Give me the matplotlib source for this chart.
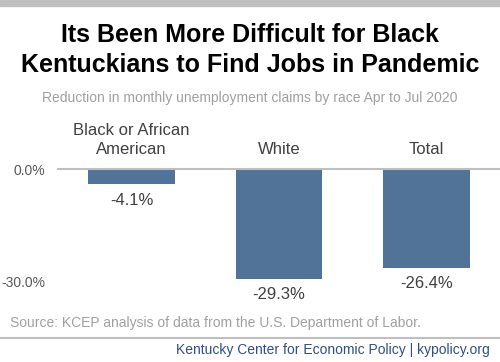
import matplotlib.pyplot as plt
import numpy as np

plt.rcParams['font.family'] = ['Liberation Sans', 'DejaVu Sans']

# datos
categorias = ['Black or African\nAmerican', 'White', 'Total']
valores = [-4.1, -29.3, -26.4]
ticks_y = [0, -30]

color_barra = '#527398'

fig = plt.figure(figsize=(5, 3.62), dpi=100)
W, H = 500, 362

# banda gris arriba
fig.patches.append(plt.Rectangle((0, 1 - 6 / H), 1, 6 / H, transform=fig.transFigure,
                                 color='#bfbfbf', zorder=0))

fig.text(0.5, 1 - 50 / H, 'Its Been More Difficult for Black\nKentuckians to Find Jobs in Pandemic',
         ha='center', va='center', fontsize=18, fontweight='bold', color='#000000', linespacing=1.27)
fig.text(0.5, 1 - 98 / H, 'Reduction in monthly unemployment claims by race Apr to Jul 2020',
         ha='center', va='center', fontsize=10, color='#a0a0a0')

# ejes: 0 en y=169px, escala ~3.754 px por %
ymin = -33
px_por_pct = 3.754
alto = -ymin * px_por_pct
ax = fig.add_axes([58 / W, (H - 169 - alto) / H, 442 / W, alto / H])
x = np.arange(len(categorias))
ax.bar(x, valores, width=0.59, color=color_barra)
ax.set_xlim(-0.5, 2.5)
ax.set_ylim(ymin, 0)
ax.axhline(0, color='#bfbfbf', lw=1.5, clip_on=False, zorder=3)
ax.set_yticks(ticks_y)
ax.set_yticklabels([f'{t:.1f}%' for t in ticks_y])
ax.tick_params(axis='y', length=0, pad=9, labelsize=10, labelcolor='#595959')
ax.set_xticks([])
for s in ax.spines.values():
    s.set_visible(False)
ax.patch.set_alpha(0)

for xi, v, c in zip(x, valores, categorias):
    ax.annotate(f'{v:.1f}%', (xi, v), xytext=(0, -6), textcoords='offset points',
                ha='center', va='top', fontsize=12, color='#404040')
    ax.annotate(c, (xi, 0), xytext=(0, 8.5), textcoords='offset points',
                ha='center', va='bottom', fontsize=12, color='#404040', linespacing=1.35)

fig.text(10 / W, 1 - 323 / H, 'Source: KCEP analysis of data from the U.S. Department of Labor.',
         ha='left', va='center', fontsize=10, color='#a0a0a0')
fig.add_artist(plt.Line2D([0, 1], [1 - 338 / H] * 2, transform=fig.transFigure,
                          color='#bfbfbf', lw=1.5))
fig.text(490 / W, 1 - 350 / H, 'Kentucky Center for Economic Policy | kypolicy.org',
         ha='right', va='center', fontsize=10, color='#2f4f86')

fig.savefig('out.png', dpi=100)
